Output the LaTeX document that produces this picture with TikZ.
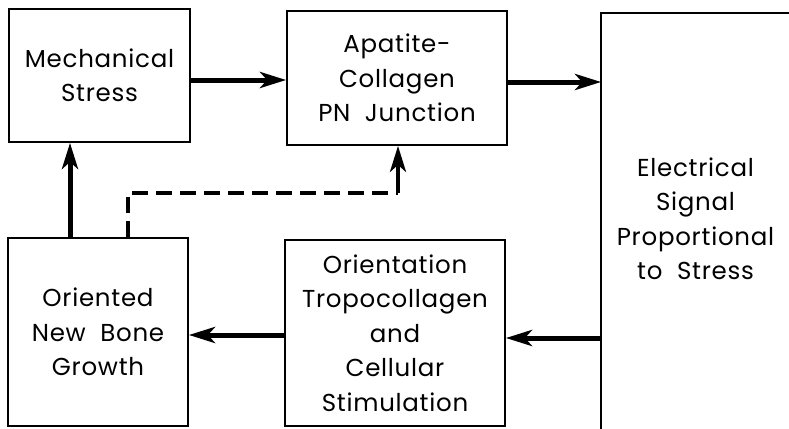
\documentclass[tikz,border=0pt]{standalone}
\usepackage{fontspec}
\setmainfont{Poppins}[LetterSpace=3]
\usetikzlibrary{arrows.meta}
\tikzset{
  box/.style={draw, line width=1.8pt, inner sep=0pt, align=center,
    font=\fontsize{24.5}{34.5}\selectfont},
  arr/.style={line width=5pt, -{Stealth[length=26pt,width=16pt,inset=7pt]}},
  dsh/.style={line width=4pt, dash pattern=on 16pt off 8pt},
}
\begin{document}
\begin{tikzpicture}[x=1pt,y=-1pt]
\useasboundingbox (0,0) rectangle (789,428);
\clip (0,0) rectangle (789,428);
\node[box, minimum width=181pt, minimum height=133pt] (mech) at (99.5,75.5) {Mechanical\\Stress};
\node[box, minimum width=220pt, minimum height=134pt] (apat) at (397,78) {Apatite-\\Collagen\\PN~ Junction};
\node[box, draw=none, minimum width=187pt, minimum height=410pt] (elec) at (695.5,219) {Electrical\\Signal\\Proportional\\to~ Stress};
\draw[line width=1.8pt] (elec.north east) -- (elec.north west) -- ++(0,430);
\node[box, minimum width=220pt, minimum height=186pt] (orient) at (395,333) {Orientation\\Tropocollagen\\and\\Cellular\\Stimulation};
\node[box, minimum width=180pt, minimum height=188pt] (oriented) at (98,332) {Oriented\\New~ Bone\\Growth};
\coordinate (vx) at (70,0);
\coordinate (dc) at (128,193);
\coordinate (dk) at (398,193);
\coordinate (y1) at (0,80);
\coordinate (y2) at (0,82);
\coordinate (y3) at (0,338);
\coordinate (y4) at (0,335);
\draw[arr] (mech.east |- y1) -- (apat.west |- y1);
\draw[arr] (apat.east |- y2) -- (elec.west |- y2);
\draw[arr] (elec.west |- y3) -- (orient.east |- y3);
\draw[arr] (orient.west |- y4) -- (oriented.east |- y4);
\draw[arr] (oriented.north -| vx) -- (mech.south -| vx);
\draw[dsh] (oriented.north -| dc) -- (dc) -- (dk);
\draw[arr, line width=4pt] (dk) -- (dk |- apat.south);
\end{tikzpicture}
\end{document}
